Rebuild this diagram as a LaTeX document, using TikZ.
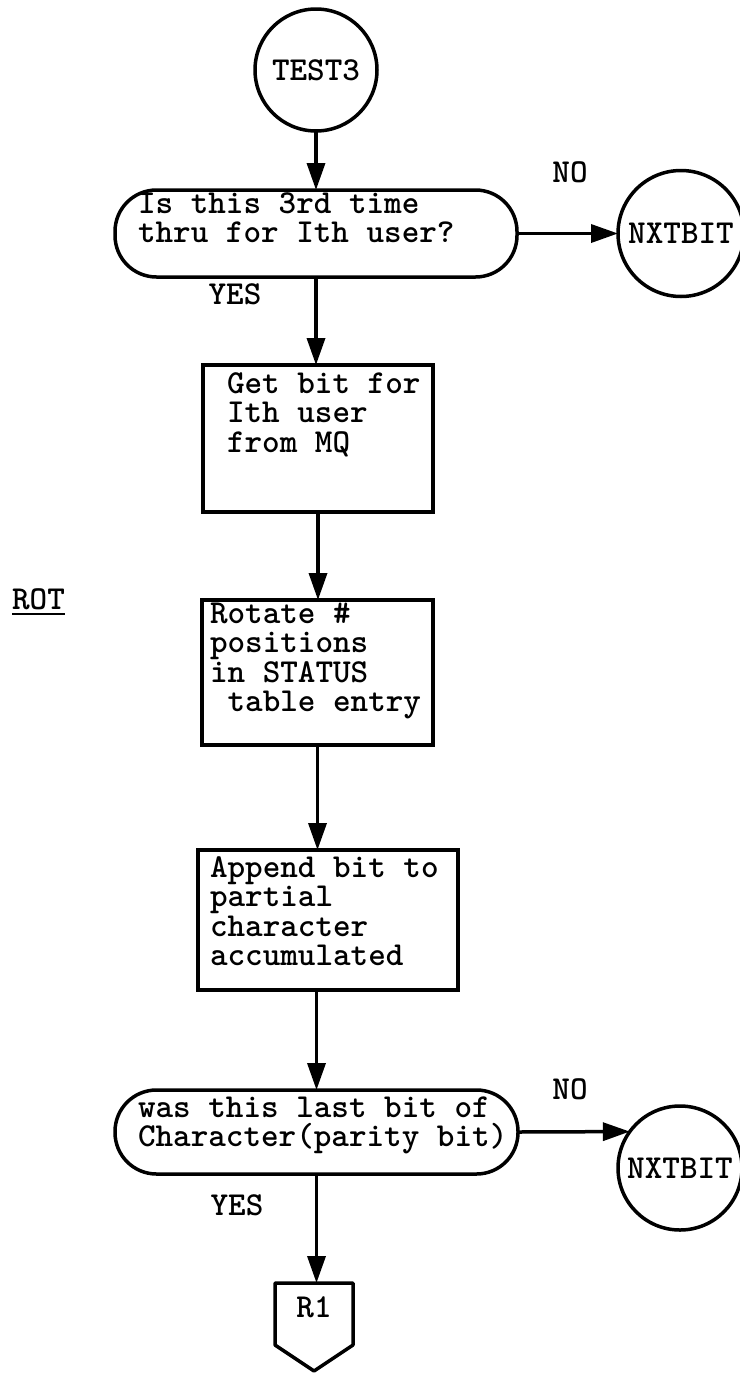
\documentclass[tikz,border=0pt]{standalone}
\usetikzlibrary{arrows.meta,calc}
\newcommand\dgfont{\fontsize{33.5pt}{29.5pt}\selectfont\ttfamily\bfseries}
\newcommand\bxt[3]{\parbox[c][#1][t]{#2}{\raggedright\rule{0pt}{23pt}#3}}
\begin{document}
\begin{tikzpicture}[x=1pt,y=-1pt,
  every node/.style={font=\dgfont, inner sep=0pt, outer sep=0pt},
  flow/.style={line width=3.5pt, -{Triangle[length=27pt,width=18pt]}},
  shapeline/.style={draw, line width=3.5pt},
  termcirc/.style={shapeline, circle, minimum size=#1},
  procbox/.style={shapeline, rectangle},
  decision/.style={shapeline, rectangle, rounded corners=41.5pt}]

\fill[white] (0,0) rectangle (739,1376);
\useasboundingbox (0,0) rectangle (739,1376);

% top part
\node[termcirc=122pt] (test3) at (316,70) {TEST3};
\node[decision, minimum width=402pt, minimum height=87pt] (d1) at (316,233.5)
  {\bxt{87pt}{356pt}{Is~this~3rd~time\\thru~for~Ith~user?}};
\node[termcirc=126pt] (nx1) at (681,233.5) {NXTBIT};
\node (no1) at (570,172) {NO};
\node (yes1) at (235,294) {YES};

\node[procbox, minimum width=230pt, minimum height=147pt] (b1) at (318,438.5)
  {\bxt{137pt}{182pt}{Get~bit~for\\Ith~user\\from~MQ}};

\node (rot) at (38.5,599) {ROT};
\draw[line width=2.5pt] ($(rot.base west)+(0,5)$) -- ($(rot.base east)+(0,5)$);

\node[procbox, minimum width=231pt, minimum height=145pt] (b2) at (317.5,672.5)
  {\bxt{145pt}{215pt}{Rotate~\#\\positions\\in~STATUS\\\hspace*{0.525em}table~entry}};

\node[procbox, minimum width=260pt, minimum height=140pt] (b3) at (328,920)
  {\bxt{132pt}{236pt}{Append~bit~to\\partial\\character\\accumulated}};

\node[decision, minimum width=403pt, minimum height=84pt] (d2) at (316.5,1132)
  {\bxt{76pt}{357pt}{was~this~last~bit~of\\Character(parity~bit)}};
\node[termcirc=124pt] (nx2) at (680,1168) {NXTBIT};
\node (no2) at (570,1089) {NO};
\node (yes2) at (237,1205) {YES};

\node[minimum width=78pt, minimum height=48pt] (r1) at (314,1307) {R1};
\draw[line width=3.5pt, line join=round] (r1.north west) -- (r1.north east)
  -- ($(r1.south east)+(0,14)$) -- ($(r1.south)+(0,40)$)
  -- ($(r1.south west)+(0,14)$) -- cycle;

% connectors
\draw[flow] (test3.south) -- (d1.north);
\draw[flow] (d1.east) -- (nx1.west);
\draw[flow] (d1.south) -- (d1.south |- b1.north);
\draw[flow] (b1.south) -- (b1.south |- b2.north);
\draw[flow] (b2.south) -- (b2.south |- b3.north);
\draw[flow] (d2.north |- b3.south) -- (d2.north);
\draw[flow] (d2.east) -- (nx2.144.5);
\draw[flow] (d2.south) -- (d2.south |- r1.north);
\end{tikzpicture}
\end{document}
